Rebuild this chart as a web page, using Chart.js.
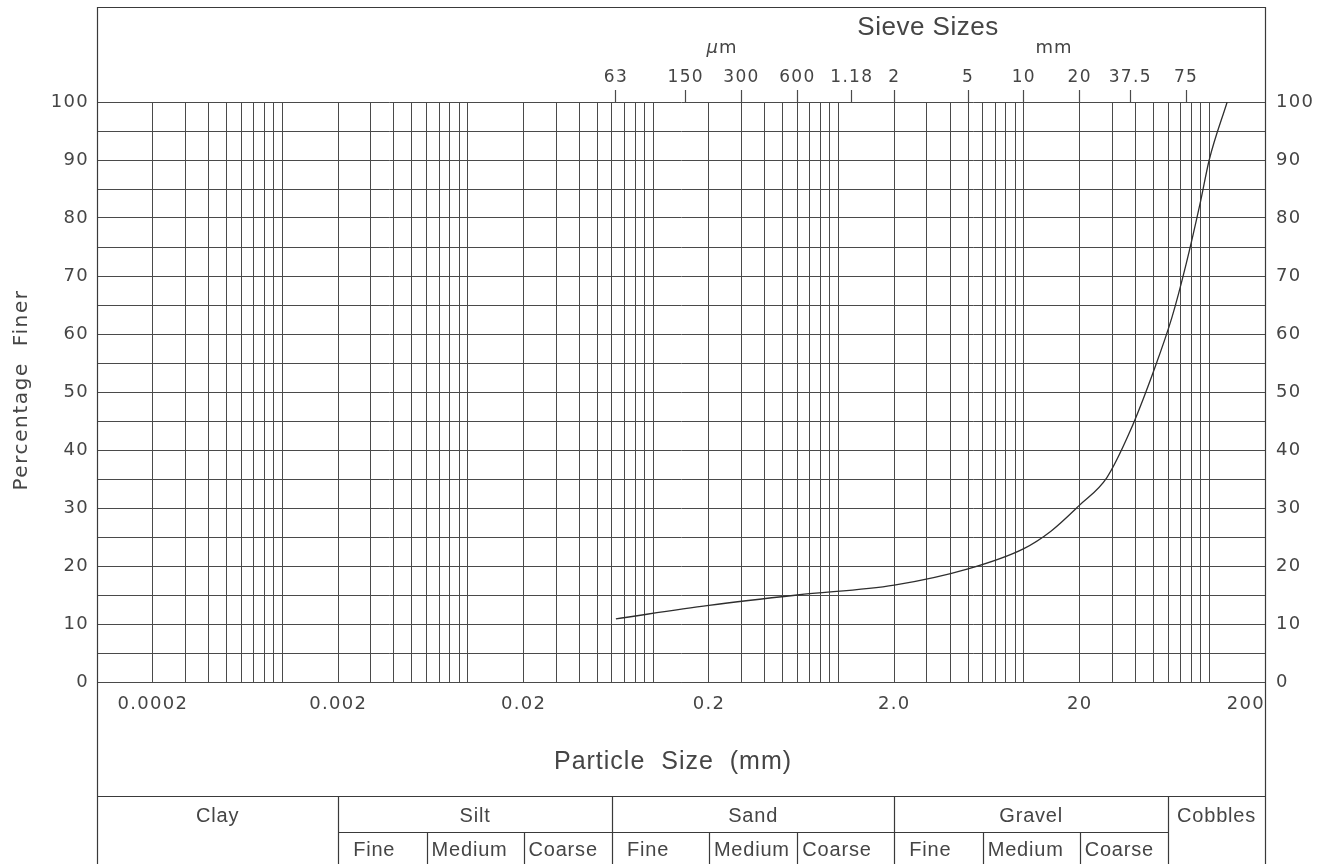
<!DOCTYPE html>
<html>
<head>
<meta charset="utf-8">
<script src="https://cdn.jsdelivr.net/npm/chart.js@4.4.1/dist/chart.umd.min.js"></script>
<style>
html,body{margin:0;padding:0;background:#fff;}
#wrap{width:1328px;height:864px;position:relative;}
</style>
</head>
<body>
<div id="wrap"><canvas id="c" width="1328" height="864"></canvas></div>
<script>
// ---- data ----
const particleSizes = [0.063, 0.2, 0.6, 2, 5, 10, 14, 20, 28, 37.5, 50, 63, 75, 90, 100, 125];
const percentFiner  = [10.9, 13.2, 15.0, 16.7, 19.5, 23.0, 26.0, 30.5, 35.2, 43.3, 53.5, 62.9, 72.0, 83.0, 90.0, 100];

const sieveSizes  = [0.063, 0.15, 0.3, 0.6, 1.18, 2, 5, 10, 20, 37.5, 75];
const sieveLabels = ['63', '150', '300', '600', '1.18', '2', '5', '10', '20', '37.5', '75'];

const sizeTickValues = [0.0002, 0.002, 0.02, 0.2, 2, 20, 200];
const sizeTickLabels = ['0.0002', '0.002', '0.02', '0.2', '2.0', '20', '200'];

const decadeStarts = [0.0001, 0.001, 0.01, 0.1, 1, 10, 100];
const gridMultipliers = [1, 2, 3, 4, 5, 6, 7, 8, 9];

const soilClasses = ['Clay', 'Silt', 'Sand', 'Gravel', 'Cobbles'];
const classLimits = [0.0001, 0.002, 0.06, 2, 60, 200];
const subClassNames = ['Fine', 'Medium', 'Coarse'];
const subClassLimits = [null, [0.002, 0.006, 0.02, 0.06], [0.06, 0.2, 0.6, 2], [2, 6, 20, 60], null];

const X_MIN = 0.0001, X_MAX = 200;
const INK = '#454545';
const LINE = '#3a3a3a';
const GRID = '#4a4a4a';
const NUM_FONT = 'DejaVu Sans';
const WORD_FONT = 'Liberation Sans';

function sameVal(a, b) { return Math.abs(Math.log10(a / b)) < 1e-6; }

const gridTicks = [];
decadeStarts.forEach(d => gridMultipliers.forEach(m => { const v = d * m; if (v <= X_MAX * 1.000001) gridTicks.push(v); }));

const spacingPlugin = {
  id: 'spacingPlugin',
  beforeDraw(chart) { chart.ctx.letterSpacing = '1.3px'; }
};

const framePlugin = {
  id: 'framePlugin',
  afterDraw(chart) {
    const ctx = chart.ctx;
    const xs = chart.scales.x;
    const ca = chart.chartArea;
    const L = Math.round(ca.left) + 0.5, R = Math.round(ca.right) + 0.5;
    const topY = 7.5, tableTop = 796.5, rowSplit = 832.5, bottom = 864;
    ctx.save();
    ctx.strokeStyle = LINE;
    ctx.lineWidth = 1.2;
    ctx.beginPath();
    ctx.moveTo(L, bottom); ctx.lineTo(L, topY); ctx.lineTo(R, topY); ctx.lineTo(R, bottom);
    ctx.moveTo(L, tableTop); ctx.lineTo(R, tableTop);
    const px = v => Math.round(xs.getPixelForValue(v)) + 0.5;
    ctx.moveTo(px(classLimits[1]), rowSplit); ctx.lineTo(px(classLimits[4]), rowSplit);
    for (let i = 1; i < classLimits.length - 1; i++) {
      ctx.moveTo(px(classLimits[i]), tableTop); ctx.lineTo(px(classLimits[i]), bottom);
    }
    subClassLimits.forEach(lims => {
      if (!lims) return;
      for (let j = 1; j < lims.length - 1; j++) {
        ctx.moveTo(px(lims[j]), rowSplit); ctx.lineTo(px(lims[j]), bottom);
      }
    });
    ctx.stroke();

    ctx.fillStyle = INK;
    ctx.textBaseline = 'middle';

    // table texts
    ctx.letterSpacing = '0.8px';
    ctx.font = `20px "${WORD_FONT}"`;
    ctx.textAlign = 'center';
    soilClasses.forEach((name, i) => {
      const a = xs.getPixelForValue(classLimits[i]), b = xs.getPixelForValue(classLimits[i + 1]);
      ctx.fillText(name, (a + b) / 2, 816);
    });
    ctx.textAlign = 'left';
    subClassLimits.forEach(lims => {
      if (!lims) return;
      for (let j = 0; j < 3; j++) {
        const a = xs.getPixelForValue(lims[j]);
        const pad = j === 0 ? 15 : 5;
        ctx.fillText(subClassNames[j], a + pad, 850);
      }
    });

    // axis titles
    ctx.letterSpacing = '1px';
    ctx.font = `25px "${WORD_FONT}"`;
    ctx.textAlign = 'center';
    ctx.fillText('Particle  Size  (mm)', 673, 762);

    ctx.save();
    ctx.translate(22, 390);
    ctx.rotate(-Math.PI / 2);
    ctx.letterSpacing = '1.6px';
    ctx.font = `20px "${NUM_FONT}"`;
    ctx.fillText('Percentage  Finer', 0, 0);
    ctx.restore();

    // header texts
    ctx.letterSpacing = '0.5px';
    ctx.font = `26px "${WORD_FONT}"`;
    ctx.textAlign = 'center';
    ctx.fillText('Sieve Sizes', 928, 28);
    ctx.letterSpacing = '1px';
    ctx.font = `italic 18px "${NUM_FONT}"`;
    ctx.textAlign = 'right';
    ctx.fillText('\u00B5', 719, 48);
    ctx.font = `18px "${NUM_FONT}"`;
    ctx.textAlign = 'left';
    ctx.fillText('m', 719, 48);
    ctx.textAlign = 'center';
    ctx.fillText('mm', 1054, 48);
    ctx.restore();
  }
};

const chart = new Chart(document.getElementById('c'), {
  type: 'line',
  data: {
    datasets: [{
      data: particleSizes.map((s, i) => ({ x: s, y: percentFiner[i] })),
      borderColor: '#2e2e2e',
      borderWidth: 1.3,
      pointRadius: 0,
      fill: false,
      cubicInterpolationMode: 'monotone'
    }]
  },
  options: {
    responsive: false,
    animation: false,
    devicePixelRatio: 1,
    layout: { padding: 0 },
    plugins: { legend: { display: false }, tooltip: { enabled: false } },
    scales: {
      x: {
        type: 'logarithmic', position: 'bottom', min: X_MIN, max: X_MAX,
        afterBuildTicks: s => { s.ticks = gridTicks.map(v => ({ value: v })); },
        afterFit: s => { s.height = 182; },
        grid: { color: GRID, lineWidth: 1, drawTicks: false },
        border: { display: true, color: GRID },
        ticks: {
          autoSkip: false, maxRotation: 0, minRotation: 0, padding: 12, align: 'inner',
          color: INK, font: { family: NUM_FONT, size: 18 },
          callback: v => { const i = sizeTickValues.findIndex(t => sameVal(t, v)); return i >= 0 ? sizeTickLabels[i] : ''; }
        }
      },
      x2: {
        type: 'logarithmic', position: 'top', min: X_MIN, max: X_MAX,
        afterBuildTicks: s => { s.ticks = sieveSizes.map(v => ({ value: v })); },
        afterFit: s => { s.height = 102; },
        grid: { drawOnChartArea: false, drawTicks: true, tickLength: 12, color: GRID, tickColor: GRID, tickWidth: 1.2 },
        border: { display: false },
        ticks: {
          autoSkip: false, maxRotation: 0, minRotation: 0, padding: 2,
          color: INK, font: { family: NUM_FONT, size: 17 },
          callback: v => { const i = sieveSizes.findIndex(t => sameVal(t, v)); return i >= 0 ? sieveLabels[i] : ''; }
        }
      },
      y: {
        type: 'linear', position: 'left', min: 0, max: 100,
        afterFit: s => { s.width = 97; },
        grid: { color: GRID, lineWidth: 1, drawTicks: false },
        border: { display: true, color: GRID },
        ticks: {
          stepSize: 5, padding: 8, color: INK, font: { family: NUM_FONT, size: 18 },
          callback: v => (v % 10 === 0 ? String(v) : '')
        }
      },
      y2: {
        type: 'linear', position: 'right', min: 0, max: 100,
        afterFit: s => { s.width = 63; },
        grid: { drawOnChartArea: false, drawTicks: false },
        border: { display: true, color: GRID },
        ticks: {
          stepSize: 5, padding: 11, color: INK, font: { family: NUM_FONT, size: 18 },
          callback: v => (v % 10 === 0 ? String(v) : '')
        }
      }
    }
  },
  plugins: [spacingPlugin, framePlugin]
});
</script>
</body>
</html>
